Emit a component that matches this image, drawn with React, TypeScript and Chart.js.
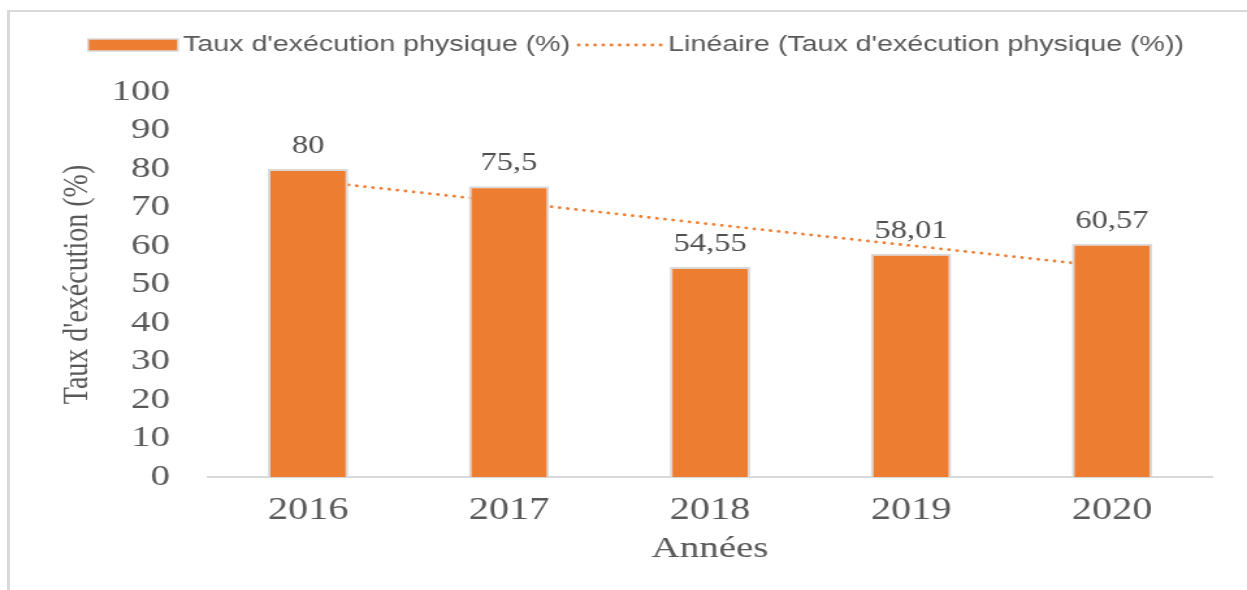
import React, { useEffect, useRef } from "react";
import { Chart, registerables } from "chart.js";

Chart.register(...registerables);

// ---- data ----
const YEARS = ["2016", "2017", "2018", "2019", "2020"];
const TAUX = [80, 75.5, 54.55, 58.01, 60.57];
const TREND = [77.0, 71.4, 65.7, 60.1, 54.5];
const Y_MIN = 0;
const Y_MAX = 100;
const Y_STEP = 10;
const BAR_LABEL = "Taux d'exécution physique (%)";
const TREND_LABEL = "Linéaire (Taux d'exécution physique (%))";
const Y_TITLE = "Taux d'exécution (%)";
const X_TITLE = "Années";

// ---- style ----
const W = 959;
const H = 590;
const SX = 1247 / W;
const ORANGE = "#ED7D31";
const TEXT = "#595959";
const LINE_GREY = "#D9D9D9";
const SERIF = "'Liberation Serif', 'Times New Roman', serif";
const SANS = "'Liberation Sans', Arial, sans-serif";

const customPlugin = {
  id: "customDraw",
  afterDatasetsDraw(chart: any) {
    const ctx = chart.ctx as CanvasRenderingContext2D;
    ctx.save();
    // data labels
    const meta = chart.getDatasetMeta(0);
    ctx.font = `25px ${SERIF}`;
    ctx.fillStyle = "#505050";
    ctx.textAlign = "center";
    ctx.textBaseline = "alphabetic";
    meta.data.forEach((el: any, i: number) => {
      const v = chart.data.datasets[0].data[i];
      ctx.fillText(String(v).replace(".", ","), el.x, el.y - 16);
    });

    // legend
    const cy = 45;
    ctx.fillStyle = ORANGE;
    ctx.strokeStyle = LINE_GREY;
    ctx.lineWidth = 1.5;
    ctx.fillRect(67.7, 39, 69.2, 12);
    ctx.strokeRect(67.7, 39, 69.2, 12);

    ctx.font = `22px ${SANS}`;
    ctx.fillStyle = TEXT;
    ctx.textAlign = "left";
    ctx.textBaseline = "middle";
    ctx.fillText(chart.data.datasets[0].label, 140.8, cy);

    ctx.beginPath();
    ctx.strokeStyle = ORANGE;
    ctx.lineWidth = 2.8;
    ctx.lineCap = "round";
    ctx.setLineDash([0.1, 6.2]);
    ctx.moveTo(445, cy);
    ctx.lineTo(509, cy);
    ctx.stroke();
    ctx.setLineDash([]);

    ctx.fillText(chart.data.datasets[1].label, 513.8, cy);
    ctx.restore();
  },
};

export default function App() {
  const ref = useRef<HTMLCanvasElement | null>(null);

  useEffect(() => {
    if (!ref.current) return;
    const chart = new Chart(ref.current, {
      type: "bar",
      data: {
        labels: YEARS,
        datasets: [
          {
            type: "bar",
            label: BAR_LABEL,
            data: TAUX,
            backgroundColor: ORANGE,
            borderColor: LINE_GREY,
            borderWidth: 2,
            borderSkipped: "start",
            barPercentage: 0.4,
            categoryPercentage: 1,
            order: 1,
          },
          {
            type: "line",
            label: TREND_LABEL,
            data: TREND,
            borderColor: ORANGE,
            borderWidth: 2.8,
            borderDash: [0.1, 6.2],
            borderCapStyle: "round",
            pointRadius: 0,
            fill: false,
            tension: 0,
            order: 2,
          },
        ],
      } as any,
      options: {
        responsive: false,
        animation: false,
        devicePixelRatio: 1,
        events: [],
        layout: { padding: { top: 92, right: 26.5, bottom: 0, left: 0 } },
        plugins: {
          legend: { display: false },
          tooltip: { enabled: false },
          title: { display: false },
        },
        scales: {
          x: {
            type: "category",
            offset: true,
            grid: { display: false, drawTicks: false },
            border: { display: true, color: LINE_GREY, width: 2 },
            ticks: {
              color: TEXT,
              font: { family: SERIF, size: 31 },
              padding: 15,
              maxRotation: 0,
              autoSkip: false,
            },
            title: {
              display: true,
              text: X_TITLE,
              color: TEXT,
              font: { family: SERIF, size: 30 },
              padding: { top: 0, bottom: 23 },
            },
            afterFit: (s: any) => {
              s.height = 113;
            },
          },
          y: {
            min: Y_MIN,
            max: Y_MAX,
            grid: { display: false, drawTicks: false },
            border: { display: false },
            ticks: {
              stepSize: Y_STEP,
              autoSkip: false,
              color: TEXT,
              font: { family: SERIF, size: 30 },
              padding: 28.8,
            },
            title: {
              display: true,
              text: Y_TITLE,
              color: TEXT,
              font: { family: SERIF, size: 28 },
              padding: { top: 42.4, bottom: 0 },
            },
            afterFit: (s: any) => {
              s.width = 159.6;
            },
          },
        },
      } as any,
      plugins: [customPlugin],
    });
    return () => chart.destroy();
  }, []);

  return (
    <div style={{ position: "absolute", left: 0, top: 0, width: 1247, height: 590, overflow: "hidden", background: "#fff" }}>
      <div
        style={{
          position: "absolute",
          left: 7,
          top: 10,
          width: 1240,
          height: 580,
          boxSizing: "border-box",
          borderTop: `2px solid ${LINE_GREY}`,
          borderLeft: `3px solid ${LINE_GREY}`,
        }}
      />
      <canvas
        ref={ref}
        width={W}
        height={H}
        style={{
          position: "absolute",
          left: 0,
          top: 0,
          width: W,
          height: H,
          transform: `scaleX(${SX})`,
          transformOrigin: "0 0",
        }}
      />
    </div>
  );
}
